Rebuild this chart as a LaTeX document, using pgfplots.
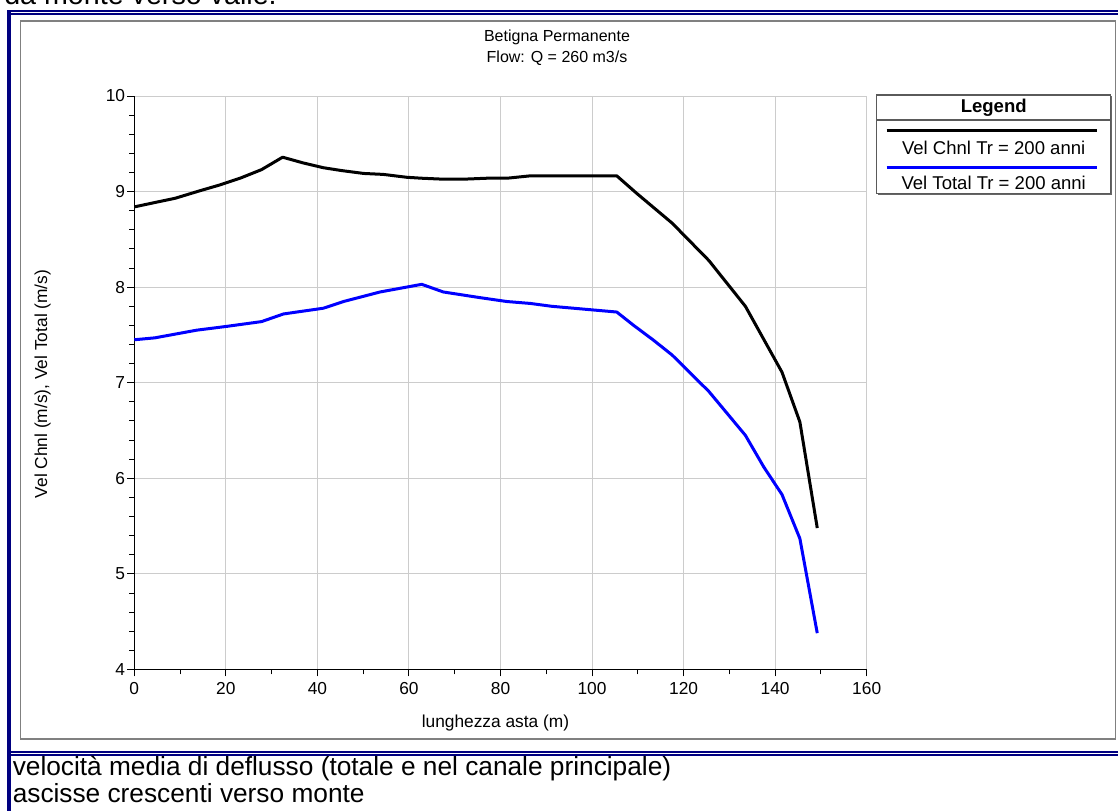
\documentclass[border=0pt]{standalone}
\usepackage{fontspec}
\setmainfont{Liberation Sans}
\usepackage{pgfplots}
\pgfplotsset{compat=1.18}
\definecolor{navyf}{RGB}{0,0,128}
\definecolor{gridc}{RGB}{204,204,204}
\definecolor{panelc}{RGB}{128,128,128}
\definecolor{legc}{RGB}{90,90,90}
\newcommand{\fs}{\fontsize{13}{15}\selectfont}
\newcommand{\fsl}{\fontsize{13.9}{16}\selectfont}
\newcommand{\fst}{\fontsize{12}{14}\selectfont}
\newcommand{\fsb}{\fontsize{19.7}{22}\selectfont}
\newcommand{\fstop}{\fontsize{21.5}{24}\selectfont}

\pgfplotstableread{
x y
0 8.84
4.9 8.89
8.9 8.93
14.4 9.01
18.7 9.07
23.1 9.14
27.8 9.23
32.4 9.36
36.9 9.30
41.3 9.25
45.3 9.22
50.1 9.19
54.4 9.18
59.5 9.15
62.8 9.14
67.5 9.13
71.9 9.13
77.0 9.14
81.4 9.14
86.5 9.165
91.2 9.165
96.0 9.165
101.0 9.165
105.4 9.165
109.8 8.98
117.5 8.67
125.5 8.28
133.5 7.80
141.5 7.11
145.4 6.59
149.2 5.48
}\chnl

\pgfplotstableread{
x y
0 7.45
4.5 7.47
13.6 7.55
20.2 7.59
27.8 7.64
32.6 7.72
41.3 7.78
45.7 7.85
53.7 7.95
62.8 8.03
67.5 7.95
75.6 7.89
81.4 7.85
86.5 7.83
91.2 7.80
105.4 7.74
109.1 7.60
113.3 7.45
117.5 7.29
125.5 6.91
133.5 6.45
137.5 6.12
141.5 5.83
145.4 5.37
149.2 4.38
}\total

\begin{document}
\begin{tikzpicture}
\useasboundingbox (0,0) rectangle (838.5pt,608.25pt);
\clip (0,0) rectangle (838.5pt,608.25pt);
\fill[white] (0,0) rectangle (838.5pt,608.25pt);

\begin{scope}[x=0.75pt,y=-0.75pt,yshift=608.25pt]
  % top cut text
  \node[anchor=base east,inner sep=0pt,font=\fstop] at (277,5) {da monte verso valle.};
  % navy frame
  \fill[navyf] (7.3,10) rectangle (11.3,811);
  \fill[navyf] (7.3,10) rectangle (1118,12.3);
  \fill[navyf] (11.3,13.3) rectangle (1118,14.7);
  \fill[navyf] (11.3,750.8) rectangle (1118,752.8);
  \fill[navyf] (11.3,753.8) rectangle (1118,755.6);
  % gray panel
  \draw[panelc,line width=1.1pt] (20.5,21) rectangle (1115.5,739);
  % bottom text
  \node[anchor=base west,inner sep=0pt,font=\fsb] at (12.5,775) {velocità media di deflusso (totale e nel canale principale)};
  \node[anchor=base west,inner sep=0pt,font=\fsb] at (12.5,802.5) {ascisse crescenti verso monte};
  % title
  \node[anchor=base,inner sep=0pt,font=\fst] at (557,42) {Betigna Permanente};
  \node[anchor=base,inner sep=0pt,font=\fst] at (557,63) {Flow: Q = 260 m3/s};
  % axis labels
  \node[anchor=base west,inner sep=0pt,font=\fs] at (421.5,727) {lunghezza asta (m)};
  \node[anchor=base,rotate=90,inner sep=0pt,font=\fs] at (47,384) {Vel Chnl (m/s), Vel Total (m/s)};
  % legend frame
  \fill[white] (876.7,95) rectangle (1110.7,193.3);
  \draw[legc,line width=0.8pt] (876.7,95) rectangle (1110.7,193.3);
  \draw[legc,line width=0.8pt] (876.7,120) -- (1110.7,120);
  \draw[black!60,line width=0.8pt] (878,194.3) -- (1111.7,194.3) -- (1111.7,96);
  \node[anchor=base,inner sep=0pt,font=\fsl\bfseries] at (993.7,113) {Legend};
  \node[anchor=base,inner sep=0pt,font=\fsl] at (993.7,155) {Vel Chnl Tr = 200 anni};
  \node[anchor=base,inner sep=0pt,font=\fsl] at (993.7,190) {Vel Total Tr = 200 anni};
\end{scope}

\begin{axis}[
  at={(100.725pt,106.125pt)}, anchor=south west,
  scale only axis, width=549.3pt, height=430.1pt,
  xmin=0, xmax=160, ymin=4, ymax=10,
  xtick={0,20,...,160}, ytick={4,5,...,10},
  minor x tick num=1, minor y tick num=4,
  axis x line*=bottom, axis y line*=left,
  axis line style={black,line width=0.8pt},
  tick align=outside,
  major tick length=5.25pt, minor tick length=3.75pt,
  tick style={black,line width=0.75pt},
  grid=major,
  major grid style={gridc,line width=0.75pt},
  ticklabel style={font=\fs},
  /pgf/number format/assume math mode=true,
  yticklabel style={inner sep=0pt, xshift=-1.5pt},
  xticklabel style={inner sep=0pt, anchor=north, yshift=-4pt},
  clip=false,
]
\addplot[black, line width=2.25pt, line join=round] table[x=x,y=y] {\chnl};
\addplot[blue, line width=2.25pt, line join=round] table[x=x,y=y] {\total};
\end{axis}

\begin{scope}[x=0.75pt,y=-0.75pt,yshift=608.25pt]
  \draw[black,line width=2.25pt] (886.7,131) -- (1096.7,131);
  \draw[blue,line width=2.25pt] (886.7,167.7) -- (1096.7,167.7);
\end{scope}
\end{tikzpicture}
\end{document}
